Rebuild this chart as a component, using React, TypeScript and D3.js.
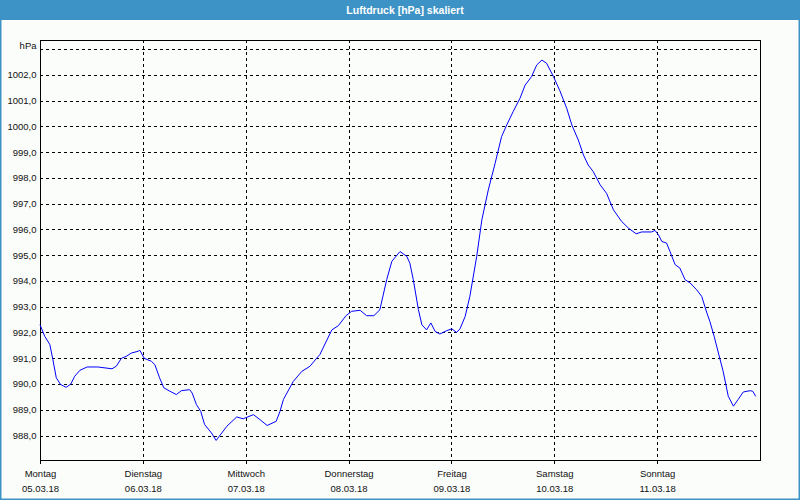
import React from "react";
import * as d3 from "d3";

const hours = [0, 1.1, 2.3, 3.0, 3.8, 4.8, 6.1, 7.2, 8.1, 9.3, 11, 13.5, 16.8, 17.8, 19, 20.1, 21.3, 22.9, 23.3, 24.3, 26, 26.8, 27.9, 28.9, 30.3, 31.8, 33, 34.9, 35.5, 36.5, 37.5, 38.4, 40, 41.1, 43.6, 45.9, 47.4, 49.8, 51.3, 53, 55.1, 56, 56.8, 59.1, 61.1, 63, 64.6, 65.3, 68.1, 69.6, 71.4, 72.7, 74.7, 76.2, 77.9, 79.3, 80.9, 82.1, 84, 85.6, 86.3, 87.1, 88.3, 89.1, 90.2, 91.2, 92.2, 93.3, 94.9, 96.1, 97.2, 98, 99.2, 100.3, 101.9, 103.1, 104.6, 106.2, 107.7, 108.9, 110.4, 112, 113.2, 114.7, 115.9, 117.1, 118.2, 119.8, 121.3, 122.9, 124.1, 125.6, 126.8, 127.9, 129.1, 130.7, 132.2, 133.8, 135.7, 137.3, 139.1, 140.4, 142.7, 143.5, 144.3, 145.1, 146.2, 147, 148.2, 149.3, 150.5, 151.7, 153.2, 154.4, 155.6, 156.3, 157.3, 158.3, 159.4, 160.6, 161.8, 162.9, 164.1, 165.7, 166.3, 167];
const pressure = [992.3, 991.85, 991.53, 990.95, 990.24, 989.98, 989.87, 990.0, 990.3, 990.53, 990.66, 990.66, 990.59, 990.69, 991.0, 991.07, 991.2, 991.27, 991.31, 991.0, 990.88, 990.75, 990.24, 989.85, 989.72, 989.59, 989.74, 989.78, 989.65, 989.2, 988.94, 988.43, 988.1, 987.81, 988.36, 988.72, 988.65, 988.81, 988.62, 988.39, 988.55, 988.94, 989.4, 990.1, 990.49, 990.69, 991.01, 991.14, 992.1, 992.26, 992.65, 992.82, 992.86, 992.65, 992.65, 992.88, 994.05, 994.76, 995.14, 994.95, 994.69, 994.05, 992.88, 992.3, 992.1, 992.37, 992.04, 991.94, 992.07, 992.14, 992.0, 992.14, 992.62, 993.4, 994.95, 996.37, 997.53, 998.57, 999.6, 1000.05, 1000.57, 1001.09, 1001.6, 1001.93, 1002.38, 1002.57, 1002.45, 1001.93, 1001.38, 1000.7, 1000.05, 999.47, 998.89, 998.5, 998.24, 997.73, 997.4, 996.76, 996.31, 996.05, 995.83, 995.9, 995.9, 995.96, 995.79, 995.53, 995.47, 995.14, 994.63, 994.5, 994.05, 993.92, 993.66, 993.4, 992.76, 992.43, 991.85, 991.2, 990.49, 989.52, 989.14, 989.4, 989.69, 989.74, 989.72, 989.52];

const yTicks = [988, 989, 990, 991, 992, 993, 994, 995, 996, 997, 998, 999, 1000, 1001, 1002, 1003];
const dayHours = [0, 24, 48, 72, 96, 120, 144];
const dayNames = ["Montag", "Dienstag", "Mittwoch", "Donnerstag", "Freitag", "Samstag", "Sonntag"];
const dayDates = ["05.03.18", "06.03.18", "07.03.18", "08.03.18", "09.03.18", "10.03.18", "11.03.18"];
const title = "Luftdruck [hPa] skaliert";
const unit = "hPa";

export default function App() {
  const W = 800, H = 500;
  const L = 40, R = 760, T = 40, B = 460;
  const x = d3.scaleLinear().domain([0, 168]).range([L, R]);
  const y = d3.scaleLinear().domain([987.05, 1003.35]).range([B, T]);
  const data = hours.map((h, i) => [h, pressure[i]] as [number, number]);
  const line = d3.line<[number, number]>().x(d => x(d[0])).y(d => y(d[1]));
  const font = "'Liberation Sans', Arial, sans-serif";
  const fmt = (v: number) => v.toFixed(1).replace(".", ",");
  return (
    <svg width={W} height={H} style={{ position: "fixed", left: 0, top: 0 }} fontFamily={font}>
      <rect x={0} y={0} width={W} height={H} fill="#fbfdfb" />
      <rect x={0} y={0} width={W} height={20} fill="#3d93c5" />
      <rect x={0.75} y={0.75} width={W - 1.5} height={H - 1.5} fill="none" stroke="#3d93c5" strokeWidth={1.5} />
      <text x={405} y={13.5} textAnchor="middle" fill="#ffffff" fontWeight="bold" fontSize={10.5}>{title}</text>
      {yTicks.map(t => (
        <line key={"h" + t} x1={L} x2={R} y1={Math.round(y(t)) + 0.5} y2={Math.round(y(t)) + 0.5} stroke="#000" strokeDasharray="3,3" strokeWidth={1} />
      ))}
      {dayHours.map(h => (
        <line key={"v" + h} x1={Math.round(x(h)) + 0.5} x2={Math.round(x(h)) + 0.5} y1={T} y2={B + 3} stroke="#000" strokeDasharray="3,3" strokeWidth={1} />
      ))}
      {dayHours.map(h => (
        <line key={"t" + h} x1={Math.round(x(h)) + 0.5} x2={Math.round(x(h)) + 0.5} y1={B} y2={B + 4} stroke="#000" strokeWidth={1} />
      ))}
      <rect x={L + 0.5} y={T + 0.5} width={R - L} height={B - T} fill="none" stroke="#000" strokeWidth={1} />
      <path d={line(data) || ""} fill="none" stroke="#0000ff" strokeWidth={1} />
      {yTicks.filter(t => t < 1003).map(t => (
        <text key={"yl" + t} x={36.5} y={y(t) + 3.5} textAnchor="end" fontSize={9.5} fill="#111">{fmt(t)}</text>
      ))}
      <text x={36.5} y={48.5} textAnchor="end" fontSize={9.5} fill="#111">{unit}</text>
      {dayHours.map((h, i) => (
        <g key={"xl" + h}>
          <text x={x(h) + 0.5} y={476.5} textAnchor="middle" fontSize={9.5} fill="#111">{dayNames[i]}</text>
          <text x={x(h) + 0.5} y={491.5} textAnchor="middle" fontSize={9.5} fill="#111">{dayDates[i]}</text>
        </g>
      ))}
    </svg>
  );
}
